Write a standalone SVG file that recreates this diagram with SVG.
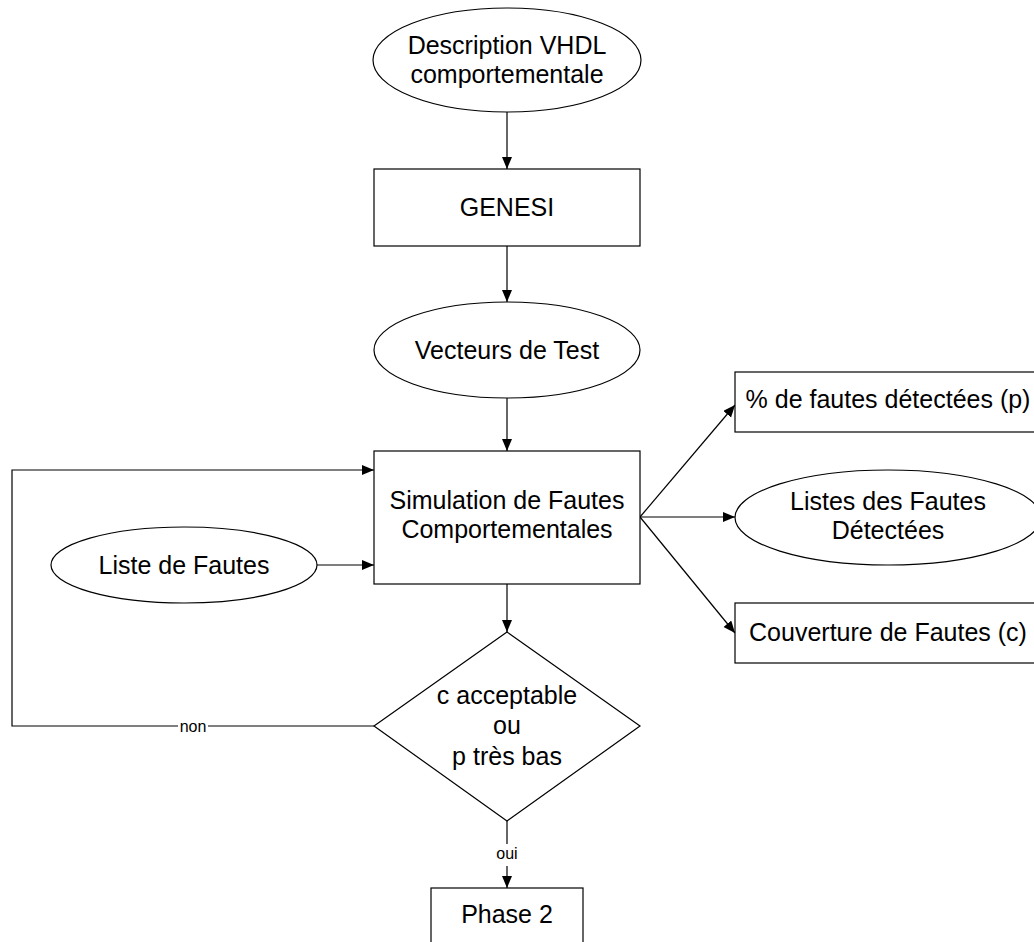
<svg xmlns="http://www.w3.org/2000/svg" width="1034" height="942" viewBox="0 0 1034 942">
<style>
.s{fill:#fff;stroke:#000;stroke-width:1.2}
.t{font-family:"Liberation Sans",Arial,sans-serif;font-size:25px;fill:#000;text-anchor:middle}
.l{font-family:"Liberation Sans",Arial,sans-serif;font-size:16px;fill:#000;text-anchor:middle}
.c{fill:none;stroke:#000;stroke-width:1.2}
</style>
<defs>
<marker id="a" markerUnits="userSpaceOnUse" markerWidth="13" markerHeight="11" refX="12" refY="5" orient="auto">
<path d="M0,0 L12,5 L0,10 z" fill="#000"/>
</marker>
</defs>
<rect width="1034" height="942" fill="#fff"/>
<g id="connectors">
<line class="c" x1="507" y1="112" x2="507" y2="169" marker-end="url(#a)"/>
<line class="c" x1="507" y1="246" x2="507" y2="302" marker-end="url(#a)"/>
<line class="c" x1="507" y1="398" x2="507" y2="451" marker-end="url(#a)"/>
<line class="c" x1="317" y1="565" x2="374" y2="565" marker-end="url(#a)"/>
<line class="c" x1="507" y1="584" x2="507" y2="632" marker-end="url(#a)"/>
<line class="c" x1="640" y1="517" x2="735" y2="405" marker-end="url(#a)"/>
<line class="c" x1="640" y1="517" x2="735" y2="517" marker-end="url(#a)"/>
<line class="c" x1="640" y1="517" x2="735" y2="633" marker-end="url(#a)"/>
<polyline class="c" points="374,726 12,726 12,470 374,470" marker-end="url(#a)"/>
<line class="c" x1="507" y1="821" x2="507" y2="888" marker-end="url(#a)"/>
<rect x="178" y="718" width="30" height="17" fill="#fff"/>
<text class="l" x="193" y="732">non</text>
<rect x="495" y="844" width="24" height="22" fill="#fff"/>
<text class="l" x="507" y="859">oui</text>
</g>
<g id="n1">
<ellipse class="s" cx="507" cy="60" rx="134" ry="52"/>
<text class="t" x="507" y="54">Description VHDL</text>
<text class="t" x="507" y="83">comportementale</text>
</g>
<g id="n2">
<rect class="s" x="374" y="169" width="266" height="77"/>
<text class="t" x="507" y="216">GENESI</text>
</g>
<g id="n3">
<ellipse class="s" cx="507" cy="350" rx="133" ry="48"/>
<text class="t" x="507" y="359">Vecteurs de Test</text>
</g>
<g id="n4">
<rect class="s" x="374" y="451" width="266" height="133"/>
<text class="t" x="507" y="509">Simulation de Fautes</text>
<text class="t" x="507" y="538">Comportementales</text>
</g>
<g id="n5">
<ellipse class="s" cx="184" cy="565" rx="133" ry="38"/>
<text class="t" x="184" y="574">Liste de Fautes</text>
</g>
<g id="n6">
<polygon class="s" points="507,632 640,726 507,821 374,726"/>
<text class="t" x="507" y="704">c acceptable</text>
<text class="t" x="507" y="734">ou</text>
<text class="t" x="507" y="765">p très bas</text>
</g>
<g id="n7">
<rect class="s" x="431" y="888" width="152" height="60"/>
<text class="t" x="507" y="923">Phase 2</text>
</g>
<g id="n8">
<rect class="s" x="735" y="372" width="306" height="60"/>
<text class="t" x="888" y="408">% de fautes détectées (p)</text>
</g>
<g id="n9">
<ellipse class="s" cx="888" cy="517.5" rx="153" ry="47.5"/>
<text class="t" x="888" y="510">Listes des Fautes</text>
<text class="t" x="888" y="539">Détectées</text>
</g>
<g id="n10">
<rect class="s" x="735" y="603" width="306" height="60"/>
<text class="t" x="888" y="641">Couverture de Fautes (c)</text>
</g>
</svg>
